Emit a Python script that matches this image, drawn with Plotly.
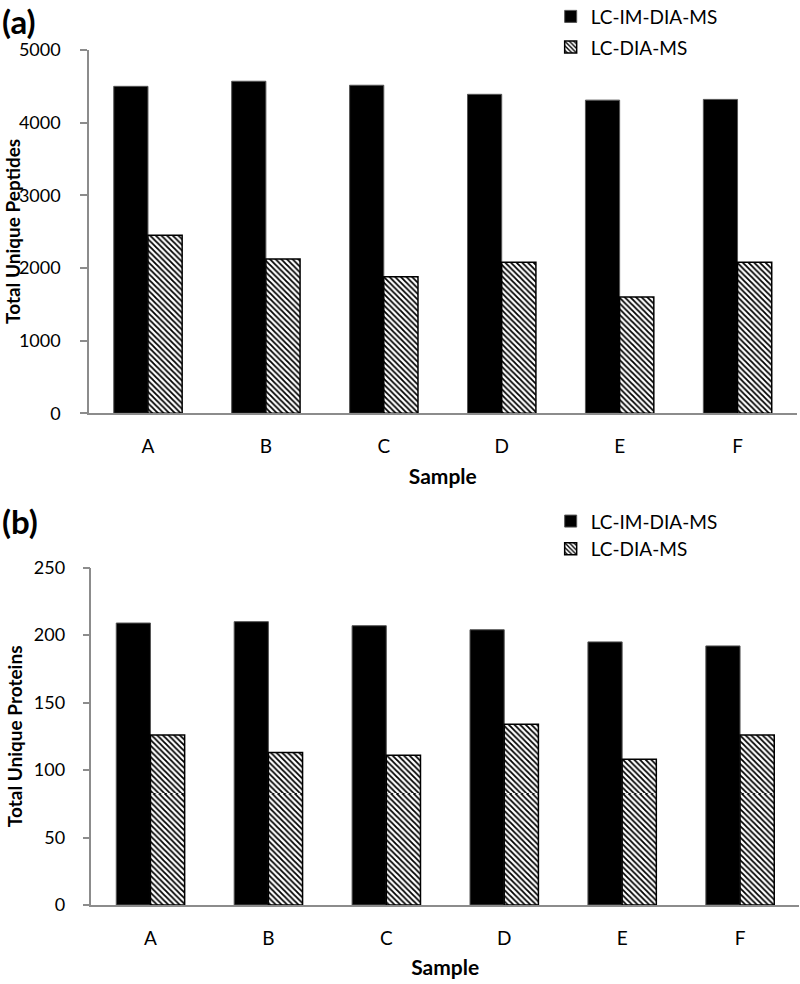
import plotly.graph_objects as go

samples = ["A", "B", "C", "D", "E", "F"]
peptides_im = [4500, 4570, 4515, 4390, 4310, 4320]
peptides_dia = [2450, 2125, 1880, 2080, 1600, 2080]
proteins_im = [209, 210, 207, 204, 195, 192]
proteins_dia = [126, 113, 111, 134, 108, 126]
name_im = "LC-IM-DIA-MS"
name_dia = "LC-DIA-MS"

FONT = "Lato"
AX = "#8c8c8c"
hatch = dict(shape="\\", fgcolor="black", bgcolor="white", size=4, solidity=0.45, fillmode="replace")

W, H = 800.0, 984.0
ML, MR, MT, MB = 89.0, 0.5, 49.5, 79.0
PW, PH = W - ML - MR, H - MT - MB

def fx(px):
    return (px - ML) / PW

def fy(px):
    return (H - MB - px) / PH

fig = go.Figure()
fig.add_trace(go.Bar(x=samples, y=peptides_im, name=name_im, marker=dict(color="black", line=dict(color="#555", width=1)),
                     xaxis="x", yaxis="y", legend="legend", legendgroup="a1"))
fig.add_trace(go.Bar(x=samples, y=peptides_dia, name=name_dia, marker=dict(color="white", pattern=hatch, line=dict(color="black", width=1.5)),
                     xaxis="x", yaxis="y", legend="legend", legendgroup="a2"))
fig.add_trace(go.Bar(x=samples, y=proteins_im, name=name_im, marker=dict(color="black", line=dict(color="#555", width=1)),
                     xaxis="x2", yaxis="y2", legend="legend2", legendgroup="b1"))
fig.add_trace(go.Bar(x=samples, y=proteins_dia, name=name_dia, marker=dict(color="white", pattern=hatch, line=dict(color="black", width=1.5)),
                     xaxis="x2", yaxis="y2", legend="legend2", legendgroup="b2"))

xcommon = dict(showline=True, linecolor=AX, linewidth=1.5, ticks="", showgrid=False, zeroline=False, automargin=False,
               tickfont=dict(family=FONT, size=19, color="black"), ticklabelstandoff=15,
               title=dict(text="<b>Sample</b>", font=dict(family=FONT, size=21, color="black"), standoff=13))
ycommon = dict(showline=True, linecolor=AX, linewidth=1.5, ticks="outside", ticklen=7, tickcolor=AX, tickwidth=1.5,
               showgrid=False, zeroline=False, automargin=False, tickfont=dict(family=FONT, size=18, color="black"))

title_font = dict(family=FONT, size=19, color="black")
fig.update_layout(
    width=800, height=984,
    margin=dict(l=ML, r=MR, t=MT, b=MB, autoexpand=False),
    paper_bgcolor="white", plot_bgcolor="white",
    barmode="group", bargap=0.42, bargroupgap=0,
    xaxis=dict(domain=[fx(89), fx(797)], anchor="y", **xcommon),
    yaxis=dict(domain=[fy(413), fy(49.5)], anchor="x", range=[0, 5000], dtick=1000, ticklabelstandoff=16, **ycommon),
    xaxis2=dict(domain=[fx(91.5), fx(799.5)], anchor="y2", **xcommon),
    yaxis2=dict(domain=[fy(905), fy(567.5)], anchor="x2", range=[0, 250], dtick=50, ticklabelstandoff=14, **ycommon),
    legend=dict(x=fx(551), y=fy(-3), xanchor="left", yanchor="top", traceorder="grouped", tracegroupgap=3,
                font=dict(family=FONT, size=19, color="black"), bgcolor="rgba(0,0,0,0)"),
    legend2=dict(x=fx(551), y=fy(502), xanchor="left", yanchor="top", traceorder="grouped", tracegroupgap=0,
                 font=dict(family=FONT, size=19, color="black"), bgcolor="rgba(0,0,0,0)"),
    annotations=[
        dict(text="<b>(a)</b>", x=fx(0), y=fy(-2), xref="paper", yref="paper", xanchor="left", yanchor="top",
             showarrow=False, font=dict(family=FONT, size=33, color="black")),
        dict(text="<b>(b)</b>", x=fx(0), y=fy(499), xref="paper", yref="paper", xanchor="left", yanchor="top",
             showarrow=False, font=dict(family=FONT, size=33, color="black")),
        dict(text="<b>Total Unique Peptides</b>", x=fx(13), y=fy(231.5), xref="paper", yref="paper",
             xanchor="center", yanchor="middle", textangle=-90, showarrow=False, font=title_font),
        dict(text="<b>Total Unique Proteins</b>", x=fx(14), y=fy(736), xref="paper", yref="paper",
             xanchor="center", yanchor="middle", textangle=-90, showarrow=False, font=title_font),
    ],
)

fig.write_html("out.html", config={"displayModeBar": False},
               post_script="document.body.style.margin='0';document.body.style.padding='0';")
